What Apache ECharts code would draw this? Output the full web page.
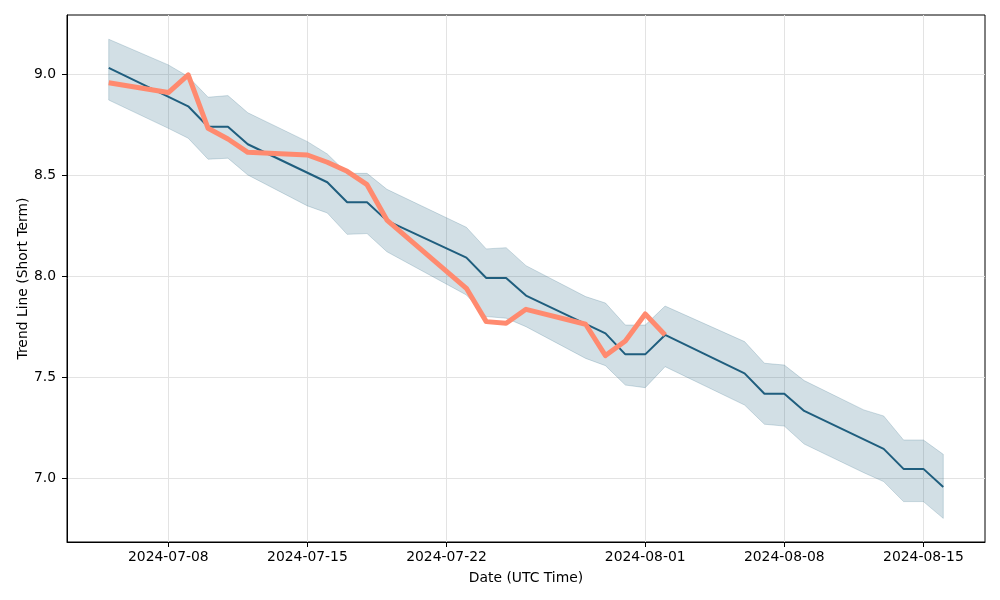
<!DOCTYPE html>
<html>
<head>
<meta charset="utf-8">
<script src="https://cdn.jsdelivr.net/npm/echarts@6/dist/echarts.min.js"></script>
<style>
html,body{margin:0;padding:0;background:#fff;}
#chart{width:1000px;height:600px;}
</style>
</head>
<body>
<div id="chart"></div>
<script>
// Business days shown (07-22 and 08-05 carry no vertex in the reference)
const dates = [
  '2024-07-05','2024-07-08','2024-07-09','2024-07-10','2024-07-11','2024-07-12',
  '2024-07-15','2024-07-16','2024-07-17','2024-07-18','2024-07-19',
  '2024-07-23','2024-07-24','2024-07-25','2024-07-26',
  '2024-07-29','2024-07-30','2024-07-31','2024-08-01','2024-08-02',
  '2024-08-06','2024-08-07','2024-08-08','2024-08-09',
  '2024-08-12','2024-08-13','2024-08-14','2024-08-15','2024-08-16'
];
const trend = [
  9.030, null, 8.840, 8.739, 8.739, 8.652,
  null, 8.464, 8.365, 8.365, 8.274,
  8.091, 7.990, 7.990, 7.903,
  null, 7.716, 7.612, 7.612, 7.708,
  7.518, 7.417, 7.417, 7.332,
  null, 7.144, 7.045, 7.045, 6.955
];
const upper = [
  9.172, 9.045, 8.987, 8.885, 8.893, 8.808,
  8.665, 8.604, 8.508, 8.508, 8.429,
  8.241, 8.134, 8.140, 8.051,
  7.898, 7.866, 7.757, 7.757, 7.851,
  7.675, 7.568, 7.559, 7.482,
  7.337, 7.307, 7.188, 7.188, 7.117
];
const lower = [
  8.871, 8.731, 8.682, 8.578, 8.583, 8.500,
  8.347, 8.312, 8.206, 8.210, 8.120,
  7.906, 7.799, 7.791, 7.749,
  7.592, 7.556, 7.460, 7.447, 7.551,
  7.361, 7.266, 7.257, 7.168,
  7.026, 6.982, 6.883, 6.883, 6.800
];
const actual = [
  8.957, 8.908, 8.995, 8.731, 8.678, 8.612,
  8.599, 8.563, 8.518, 8.452, 8.277,
  7.939, 7.774, 7.766, 7.835,
  7.761, 7.606, 7.678, 7.812, 7.708,
  null, null, null, null,
  null, null, null, null, null
];
const xTickLabels = ['2024-07-08','2024-07-15','2024-07-22','2024-08-01','2024-08-08','2024-08-15'];
const yTickLabels = [7.0, 7.5, 8.0, 8.5, 9.0];

const ts = d => Date.parse(d + 'T00:00:00Z');
const DAY = 86400000;
const xMin = ts('2024-07-05') - 2.1 * DAY;
const xMax = ts('2024-08-16') + 2.1 * DAY;

const pair = arr => dates.map((d, i) => [ts(d), arr[i]]);
const bandData = dates.map((d, i) => [ts(d), lower[i], upper[i]]);

const FONT = 'DejaVu Sans';
const TREND = '#1f5e7e';
const ORANGE = '#ff8a6f';
const BAND = 'rgba(31,94,126,0.2)';

const pad = n => (n < 10 ? '0' : '') + n;
const fmtDate = v => {
  const d = new Date(v);
  return d.getUTCFullYear() + '-' + pad(d.getUTCMonth() + 1) + '-' + pad(d.getUTCDate());
};

function renderBand(params, api) {
  if (params.dataIndex !== 0) return null;
  const top = bandData.map(r => api.coord([r[0], r[2]]));
  const bot = bandData.map(r => api.coord([r[0], r[1]])).reverse();
  return {
    type: 'group',
    children: [
      {type: 'polygon', shape: {points: top.concat(bot)}, style: {fill: BAND, stroke: BAND, lineWidth: 1}, silent: true}
    ]
  };
}

const chart = echarts.init(document.getElementById('chart'), null, {renderer: 'canvas'});
chart.setOption({
  animation: false,
  backgroundColor: '#fff',
  grid: {left: 67, right: 15, top: 15, bottom: 58, show: true, borderColor: '#000', borderWidth: 1, backgroundColor: 'transparent'},
  xAxis: {
    type: 'value',
    min: xMin, max: xMax,
    name: 'Date (UTC Time)',
    nameLocation: 'middle',
    nameGap: 29,
    nameMoveOverlap: false,
    nameTextStyle: {fontFamily: FONT, fontSize: 13.9, color: '#000'},
    axisLine: {show: true, onZero: false, lineStyle: {color: '#000', width: 1}},
    axisTick: {show: true, length: 5, lineStyle: {color: '#000', width: 1}, customValues: xTickLabels.map(ts)},
    axisLabel: {fontFamily: FONT, fontSize: 13.9, color: '#000', margin: 8, customValues: xTickLabels.map(ts), formatter: v => fmtDate(v), hideOverlap: false},
    splitLine: {show: true, lineStyle: {color: '#e3e3e3', width: 1}}
  },
  yAxis: {
    type: 'value',
    min: 6.683, max: 9.292,
    name: 'Trend Line (Short Term)',
    nameLocation: 'middle',
    nameGap: 37,
    nameMoveOverlap: false,
    nameTextStyle: {fontFamily: FONT, fontSize: 13.9, color: '#000'},
    axisLine: {show: true, onZero: false, lineStyle: {color: '#000', width: 1}},
    axisTick: {show: true, length: 5, lineStyle: {color: '#000', width: 1}, customValues: yTickLabels},
    axisLabel: {fontFamily: FONT, fontSize: 13.9, color: '#000', margin: 11, customValues: yTickLabels, formatter: v => v.toFixed(1)},
    splitLine: {show: true, lineStyle: {color: '#e3e3e3', width: 1}}
  },
  series: [
    {
      name: 'band', type: 'custom', data: bandData, renderItem: renderBand,
      encode: {x: 0, y: [1, 2]}, z: 1, silent: true, clip: true
    },
    {
      name: 'trend', type: 'line', data: pair(trend), connectNulls: true,
      symbol: 'none', lineStyle: {color: TREND, width: 2}, z: 2
    },
    {
      name: 'actual', type: 'line', data: pair(actual),
      symbol: 'none', lineStyle: {color: ORANGE, width: 5, join: 'round'}, z: 3
    }
  ]
});
</script>
</body>
</html>
